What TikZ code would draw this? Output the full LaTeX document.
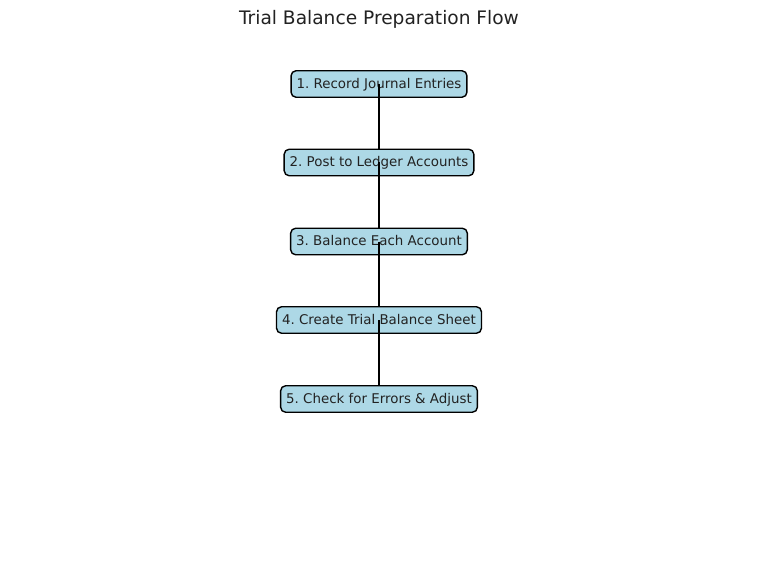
\documentclass[tikz,border=0pt]{standalone}
\usepackage{fontspec}
\setmainfont{DejaVu Sans}
\definecolor{boxblue}{HTML}{ADD8E6}
\definecolor{txt}{HTML}{222222}
\tikzset{
  stepbox/.style={draw=black, fill=boxblue, line width=1.4bp, rounded corners=5bp,
    inner xsep=5.5bp, inner ysep=0bp, minimum height=26.5bp, text=txt,
    text height=9.5bp, text depth=0.9bp,
    font=\fontsize{13.4bp}{16bp}\selectfont},
  link/.style={draw=black, line width=1.4bp},
  ttl/.style={text=txt, font=\fontsize{18.6bp}{22bp}\selectfont, inner sep=0pt}
}
\begin{document}
\frenchspacing
\begin{tikzpicture}[x=1bp,y=-1bp]
\useasboundingbox (0,0) rectangle (758,566);
\node[ttl, anchor=base] (title) at (379,24.5) {Trial Balance Preparation Flow};
\node[stepbox] (s1) at (379,84) {1. Record Journal Entries};
\draw[link] (s1.center) -- (379,149) coordinate (c1);
\node[stepbox] (s2) at (379,162.5) {2. Post to Ledger Accounts};
\draw[link] (s2.center) -- (379,228) coordinate (c2);
\node[stepbox] (s3) at (379,241.5) {3. Balance Each Account};
\draw[link] (s3.center) -- (379,307) coordinate (c3);
\node[stepbox] (s4) at (379,320) {4. Create Trial Balance Sheet};
\draw[link] (s4.center) -- (379,386) coordinate (c4);
\node[stepbox] (s5) at (379,399) {5. Check for Errors \& Adjust};
\end{tikzpicture}
\end{document}
